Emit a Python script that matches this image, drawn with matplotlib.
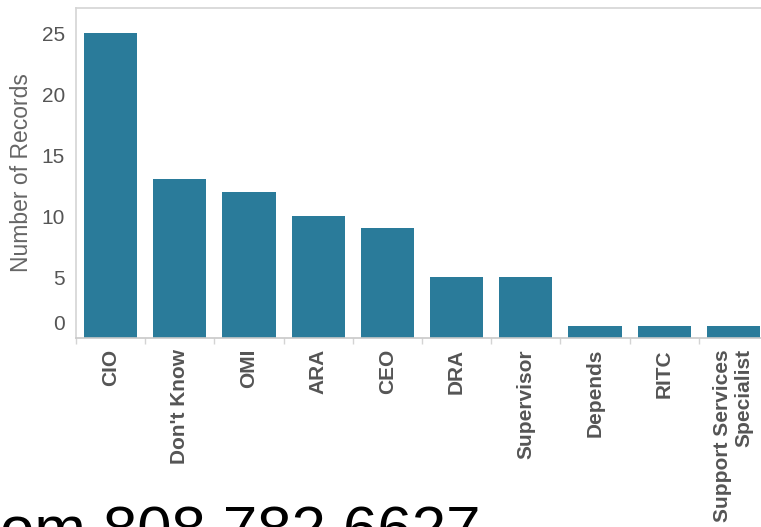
import matplotlib

matplotlib.use("Agg")
import matplotlib.pyplot as plt
import matplotlib.transforms as mtransforms
import numpy as np

categories = ["CIO", "Don't Know", "OMI", "ARA", "CEO", "DRA", "Supervisor",
              "Depends", "RITC", "Support Services\nSpecialist"]
records = [25, 13, 12, 10, 9, 5, 5, 1, 1, 1]
yticks = [0, 5, 10, 15, 20, 25]

BAR = "#2a7b9a"
GRID = "#d4d4d4"
TXT = "#555555"

plt.rcParams["font.family"] = ["Liberation Sans", "DejaVu Sans"]

W, H = 761, 527
fig = plt.figure(figsize=(W / 100, H / 100), dpi=100)
left, right, top, bottom = 76, 768, 8, 338
ax = fig.add_axes([left / W, (H - bottom) / H, (right - left) / W, (bottom - top) / H])

x = np.arange(len(categories))
ax.bar(x, records, width=0.77, color=BAR)
ax.set_xlim(-0.5, len(categories) - 0.5)
ax.set_ylim(0, 27.05)

for side in ["top", "left", "bottom", "right"]:
    ax.spines[side].set_color(GRID)
    ax.spines[side].set_linewidth(1.2)
ax.spines["bottom"].set_color("#c8c8c8")

ax.set_yticks(yticks)
ax.set_yticklabels([str(v) for v in yticks])
ax.tick_params(axis="y", length=0, pad=8, labelsize=15, labelcolor=TXT)
ax.set_ylabel("Number of Records", fontsize=16.5, color="#666666")
ax.yaxis.set_label_coords(-0.062, 0.5)

ax.set_xticks(x)
ax.set_xticklabels(categories, rotation=90, fontweight="bold",
                   multialignment="right", va="top", ha="center")
ax.tick_params(axis="x", length=0, pad=8, labelsize=15, labelcolor=TXT)
ax.set_xticks(np.arange(len(categories) + 1) - 0.5, minor=True)
ax.tick_params(axis="x", which="minor", length=4, color=GRID, width=1)

# Tableau lifts the zero label above the baseline
zero = ax.get_yticklabels()[0]
zero.set_transform(zero.get_transform()
                   + mtransforms.ScaledTranslation(0, 11 / 72, fig.dpi_scale_trans))

# footer text, cut off by the lower edge as in the source image
fig.text(0.0, (H - 549) / H, "om 808 782 6627", fontsize=44.5, color="black",
         ha="left", va="baseline")

fig.savefig("out.png", dpi=100)
